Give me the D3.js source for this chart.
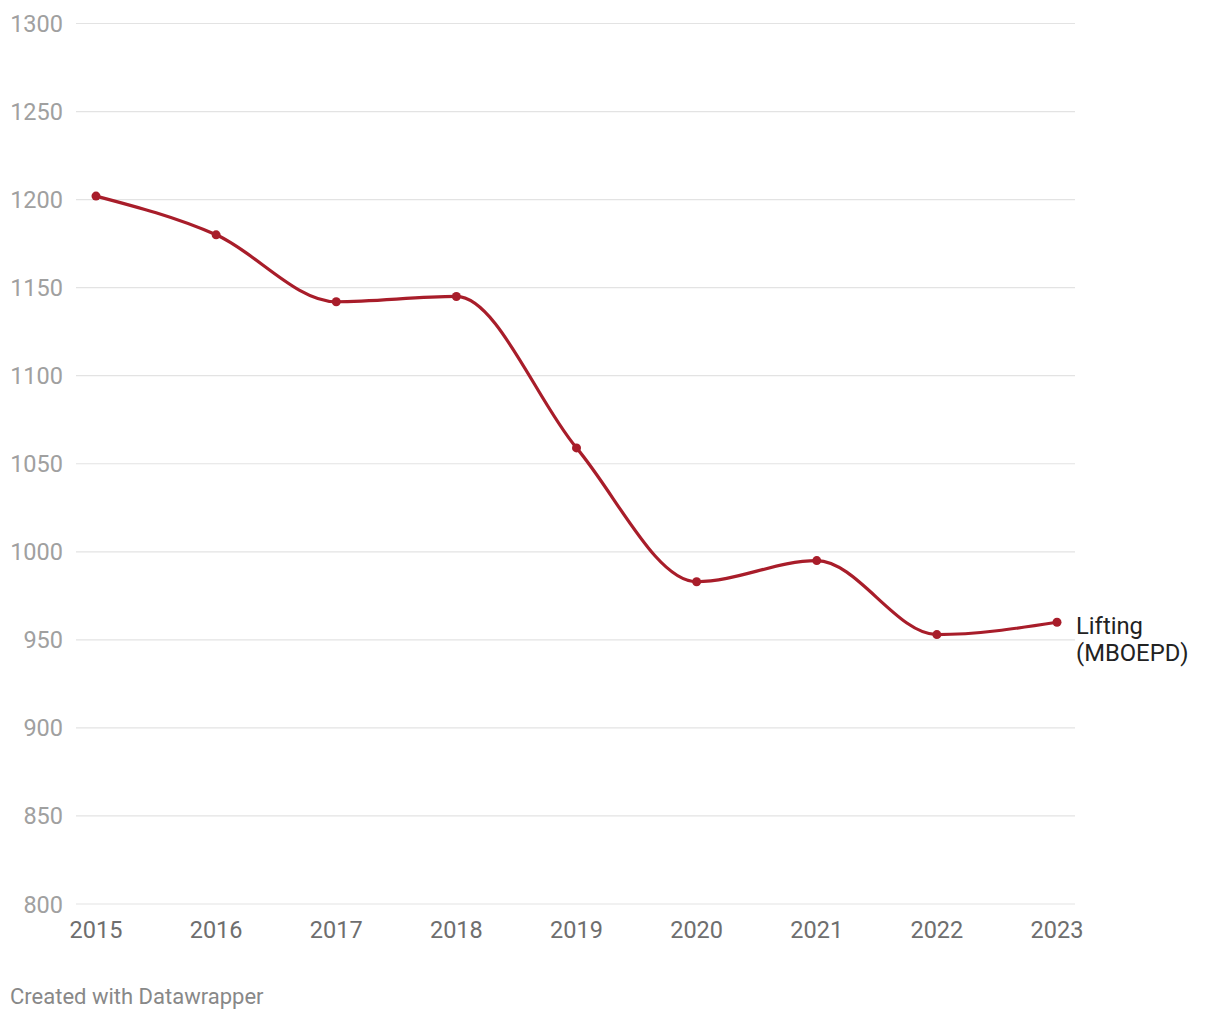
<!DOCTYPE html>
<html><head><meta charset="utf-8">
<script src="https://cdn.jsdelivr.net/npm/d3@7"></script>
<style>body{margin:0;background:#fff;font-family:Roboto,sans-serif;}</style>
</head><body>
<svg id="c" width="1220" height="1020"></svg>
<script>
const years = [2015,2016,2017,2018,2019,2020,2021,2022,2023];
const lifting = [1202,1180,1142,1145,1059,983,995,953,960];
const yTicks = [800,850,900,950,1000,1050,1100,1150,1200,1250,1300];
const seriesLabel = ["Lifting","(MBOEPD)"];
const footer = "Created with Datawrapper";

const svg = d3.select("#c");
const x = d3.scaleLinear().domain([2015,2023]).range([96,1057]);
const y = d3.scaleLinear().domain([800,1300]).range([904,23.5]);

const g = svg.append("g");
g.selectAll("line.grid").data(yTicks).join("line")
  .attr("x1",76).attr("x2",1075)
  .attr("y1",d=>y(d)).attr("y2",d=>y(d))
  .attr("stroke","#e3e3e3").attr("stroke-width",1.2);
g.selectAll("text.yt").data(yTicks).join("text")
  .attr("x",63).attr("y",d=>y(d)+8.5)
  .attr("text-anchor","end").attr("fill","#a0a0a0")
  .attr("font-size",23.5).text(d=>d);
g.selectAll("text.xt").data(years).join("text")
  .attr("x",d=>x(d)).attr("y",938)
  .attr("text-anchor","middle").attr("fill","#6e6e6e")
  .attr("font-size",23.5).text(d=>d);

const data = years.map((d,i)=>({x:d,y:lifting[i]}));
const line = d3.line().x(d=>x(d.x)).y(d=>y(d.y)).curve(d3.curveMonotoneX);
g.append("path").datum(data).attr("d",line)
  .attr("fill","none").attr("stroke","#a81d2a").attr("stroke-width",3.2);
g.selectAll("circle").data(data).join("circle")
  .attr("cx",d=>x(d.x)).attr("cy",d=>y(d.y)).attr("r",4.5).attr("fill","#a81d2a");

const last = data[data.length-1];
g.append("text").attr("x",1076).attr("y",y(last.y)+12)
  .attr("fill","#222").attr("font-size",23.8)
  .selectAll("tspan").data(seriesLabel).join("tspan")
  .attr("x",1076).attr("dy",(d,i)=>i?27:0).text(d=>d);

svg.append("text").attr("x",10).attr("y",1004).attr("fill","#888")
  .attr("font-size",22).text(footer);
</script>
</body></html>
